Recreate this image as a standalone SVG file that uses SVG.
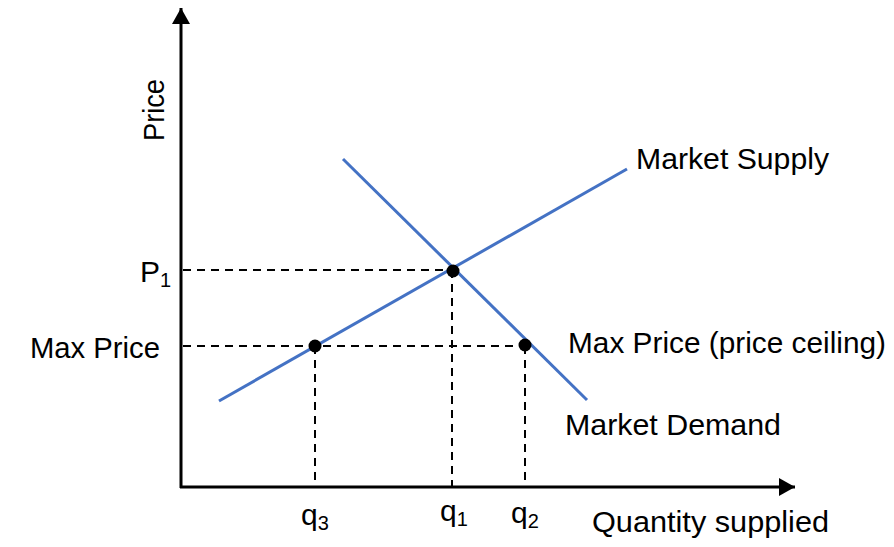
<svg xmlns="http://www.w3.org/2000/svg" width="894" height="547" viewBox="0 0 894 547">
<defs>
<marker id="ah" viewBox="0 0 16 18" refX="16" refY="9" markerWidth="16" markerHeight="18" markerUnits="userSpaceOnUse" orient="auto">
<path d="M0,0 L16,9 L0,18 Z" fill="#000"/>
</marker>
<style>
text{font-family:"Liberation Sans",Arial,sans-serif;font-size:29px;fill:#000}
.big{font-size:30px}
.sub{font-size:20px}
.axis{stroke:#000;stroke-width:3;fill:none}
.dash{stroke:#000;stroke-width:2;stroke-dasharray:8,6;fill:none}
.curve{stroke:#4472C4;stroke-width:3;fill:none}
.dot{fill:#000}
</style>
</defs>
<rect width="894" height="547" fill="#fff"/>
<g id="connectors">
<line class="dash" x1="183" y1="270" x2="453" y2="270"/>
<line class="dash" x1="183" y1="346" x2="525" y2="346"/>
<line class="dash" x1="315" y1="346" x2="315" y2="487"/>
<line class="dash" x1="452" y1="270" x2="452" y2="487"/>
<line class="dash" x1="525" y1="346" x2="525" y2="487"/>
<line class="axis" x1="181" y1="488" x2="181" y2="8" marker-end="url(#ah)"/>
<line class="axis" x1="180" y1="487" x2="795" y2="487" marker-end="url(#ah)"/>
<line class="curve" x1="219" y1="401" x2="627" y2="169"/>
<line class="curve" x1="343" y1="159" x2="587" y2="400"/>
</g>
<g id="equilibrium"><circle class="dot" cx="453" cy="271" r="6.5"/></g>
<g id="shortage-supply"><circle class="dot" cx="315" cy="346" r="6.5"/></g>
<g id="shortage-demand"><circle class="dot" cx="525" cy="345" r="6.5"/></g>
<g id="labels">
<text transform="translate(164,141) rotate(-90)" textLength="62" lengthAdjust="spacingAndGlyphs">Price</text>
<text class="big" x="140" y="282">P<tspan class="sub" dy="5">1</tspan></text>
<text x="30" y="358" textLength="130" lengthAdjust="spacingAndGlyphs">Max Price</text>
<text x="636" y="169" textLength="193" lengthAdjust="spacingAndGlyphs">Market Supply</text>
<text x="568" y="353" textLength="318" lengthAdjust="spacingAndGlyphs">Max Price (price ceiling)</text>
<text x="565" y="435" textLength="216" lengthAdjust="spacingAndGlyphs">Market Demand</text>
<text class="big" x="301" y="525">q<tspan class="sub" dy="5">3</tspan></text>
<text class="big" x="440" y="521">q<tspan class="sub" dy="5">1</tspan></text>
<text class="big" x="511" y="523">q<tspan class="sub" dy="5">2</tspan></text>
<text x="592" y="532" textLength="237" lengthAdjust="spacingAndGlyphs">Quantity supplied</text>
</g>
</svg>
